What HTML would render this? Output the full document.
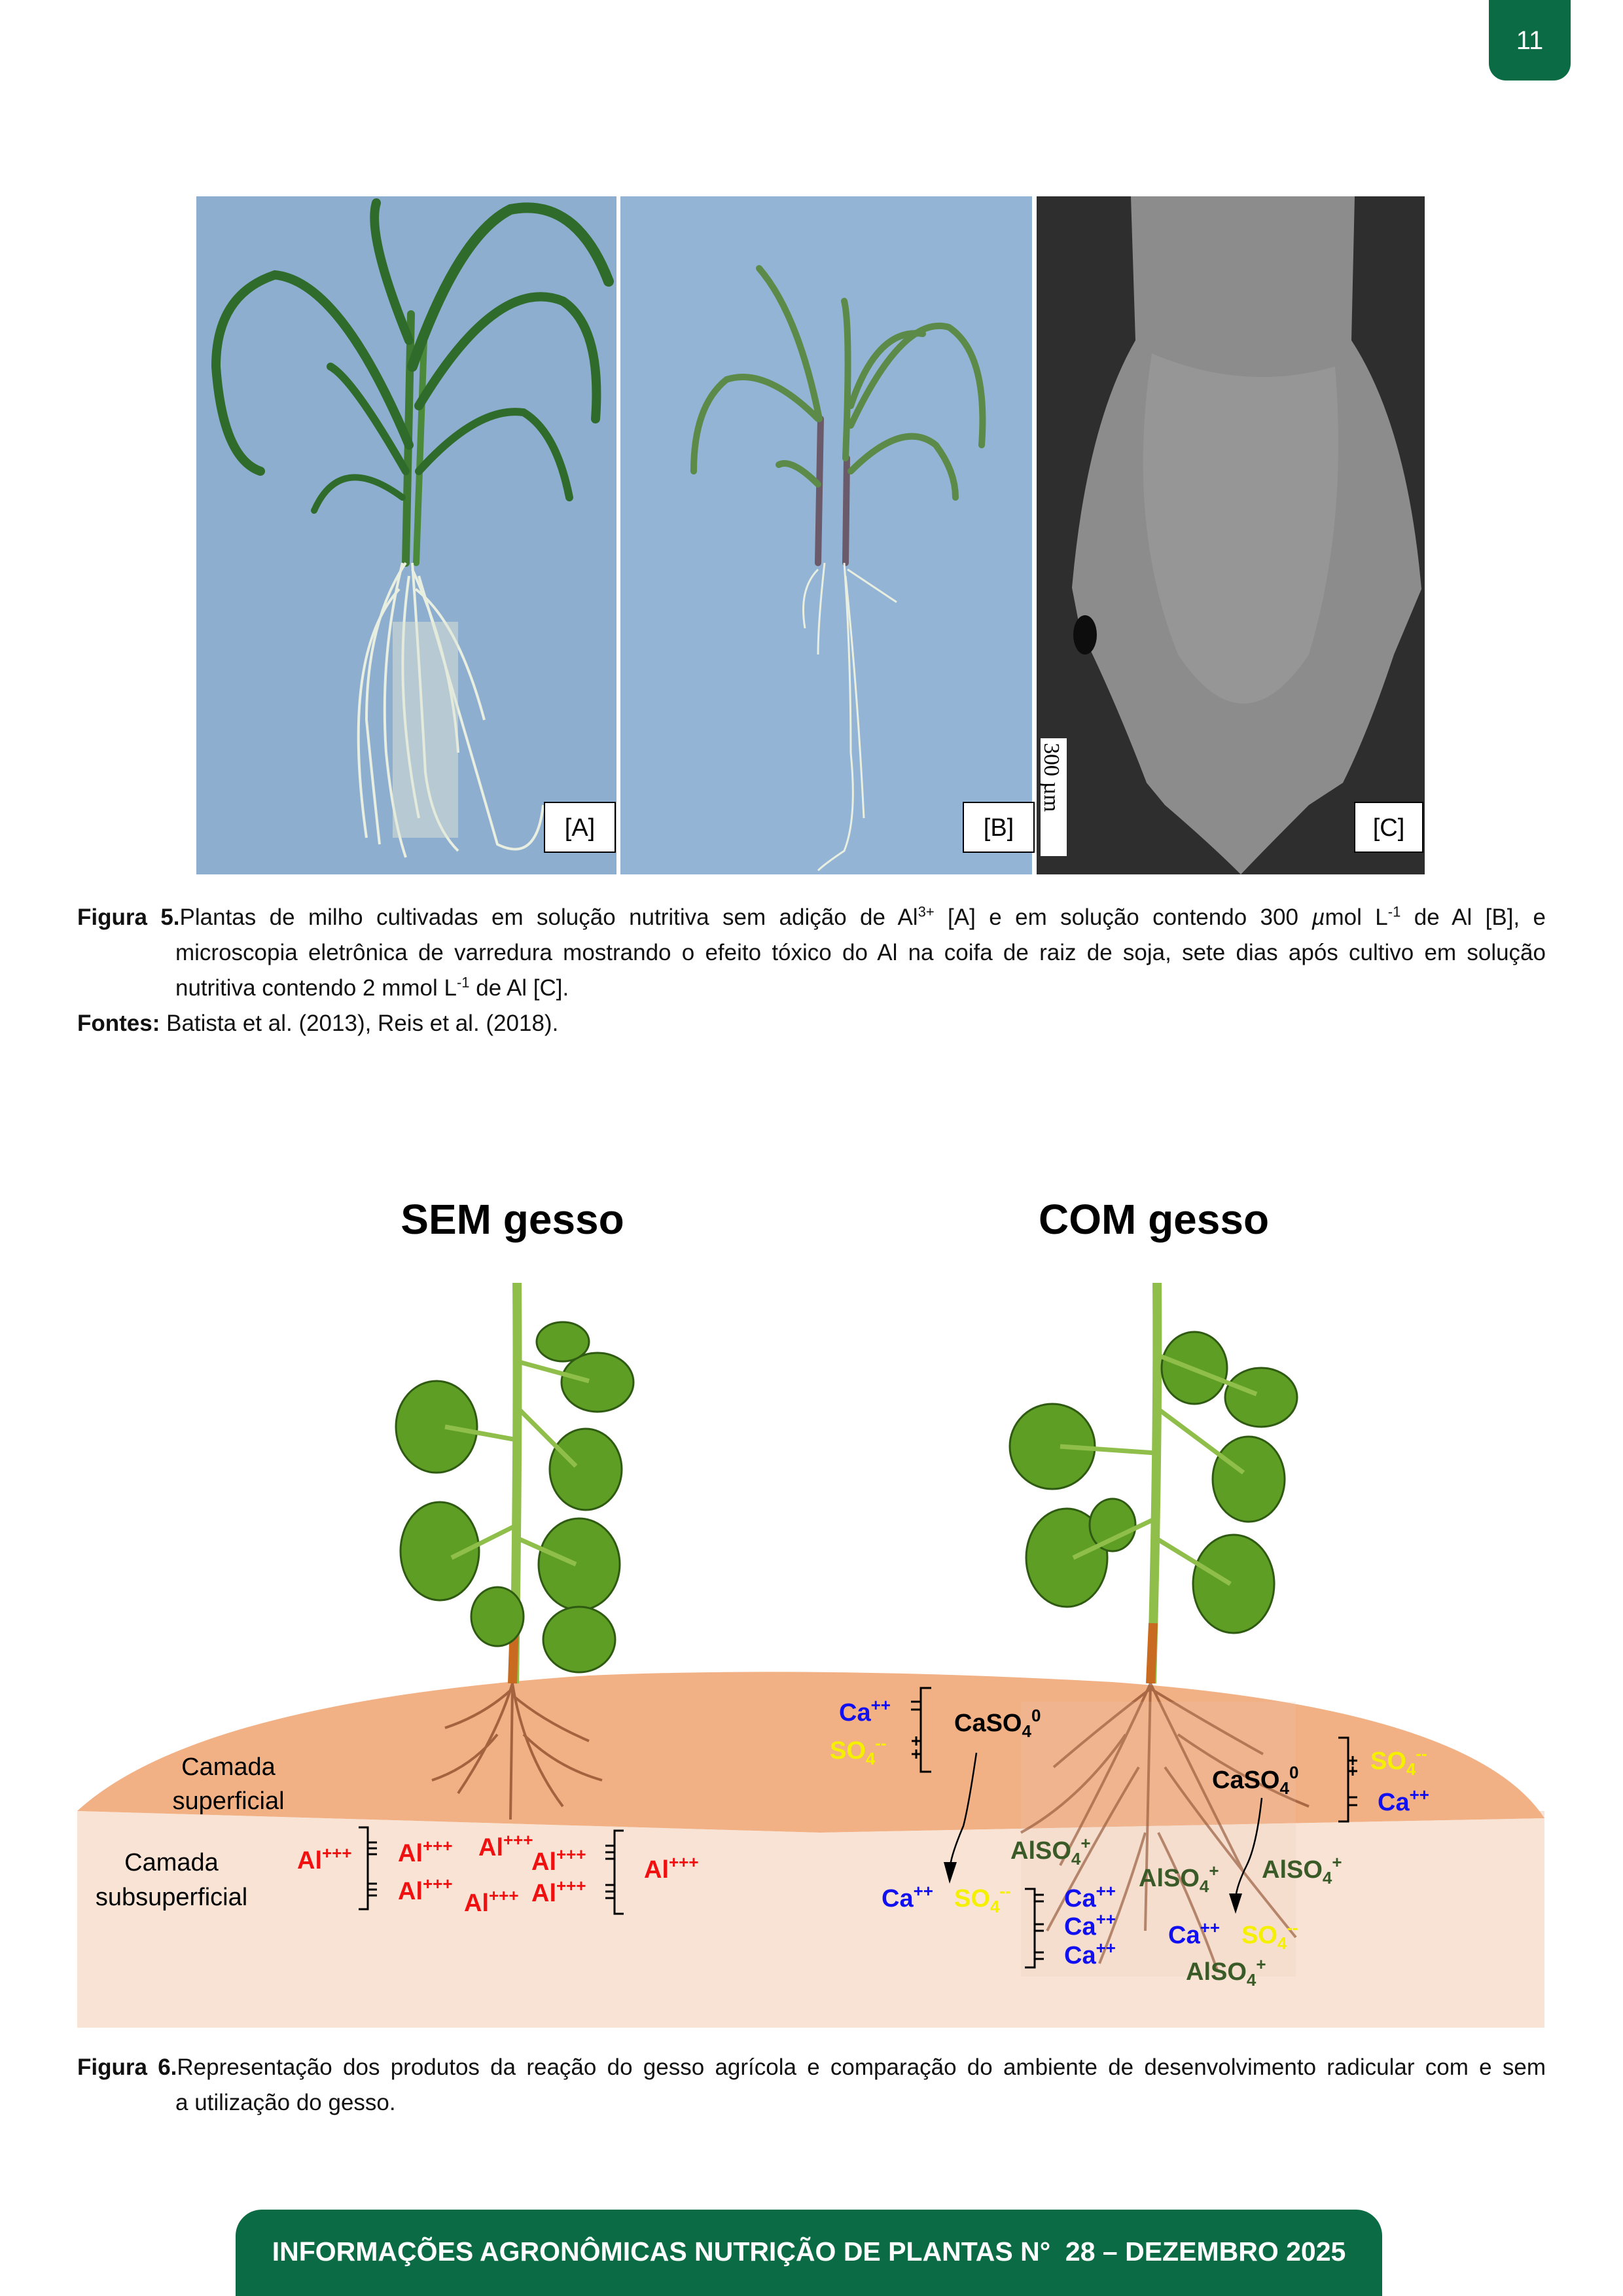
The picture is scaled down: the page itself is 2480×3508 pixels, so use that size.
<!DOCTYPE html>
<html><head><meta charset="utf-8"><style>
html,body{margin:0;padding:0;background:#fff}
body{width:2480px;height:3508px;position:relative;overflow:hidden;font-family:"Liberation Sans",sans-serif}
.cap{position:absolute;left:118px;width:2244px;font-size:35px;line-height:54px;color:#111}
.cap .l{text-align:justify;text-align-last:justify;white-space:nowrap}
.cap .ind{padding-left:150px}
.cap .nj{text-align-last:left}
sup{font-size:22px;line-height:0}
</style></head><body>
<div style="position:absolute;left:2275px;top:0;width:125px;height:123px;background:#0b6b44;border-radius:0 0 26px 26px;color:#fff;font-size:40px;text-align:center;line-height:124px">11</div>

<svg width="2480" height="3508" style="position:absolute;left:0;top:0" xmlns="http://www.w3.org/2000/svg">
<!-- Panel A -->
<rect x="300" y="300" width="642" height="1036" fill="#8eaed0"/>
<g stroke="#2f6b2a" fill="none" stroke-linecap="round">
<path d="M620 860 L628 480" stroke-width="12" stroke="#3f7a32"/>
<path d="M636 860 L648 520" stroke-width="10" stroke="#4a8a3a"/>
<path d="M625 520 Q560 360 575 310" stroke-width="14"/>
<path d="M630 560 Q700 360 780 320 Q880 300 930 430" stroke-width="16"/>
<path d="M640 620 Q760 420 860 460 Q920 500 910 640" stroke-width="14"/>
<path d="M625 680 Q520 430 420 420 Q330 450 330 560 Q340 700 398 720" stroke-width="14"/>
<path d="M620 720 Q540 580 505 560" stroke-width="12"/>
<path d="M640 720 Q730 620 800 630 Q850 660 870 760" stroke-width="12"/>
<path d="M615 760 Q520 690 480 780" stroke-width="10"/>
</g>
<g stroke="#e8eee0" fill="none" stroke-width="4">
<path d="M615 860 Q580 1000 590 1150 Q600 1250 620 1310"/><path d="M630 860 Q640 1000 650 1180 Q660 1260 700 1300"/>
<path d="M620 860 Q560 950 560 1100 Q570 1200 580 1290"/><path d="M630 870 Q690 1000 700 1150"/>
<path d="M625 880 Q600 1050 640 1250"/><path d="M640 880 Q720 1150 760 1290 Q820 1320 830 1230"/>
<path d="M610 900 Q520 1000 560 1280"/><path d="M635 900 Q700 950 740 1100"/>
</g>
<rect x="600" y="950" width="100" height="330" fill="#dfe6d6" opacity="0.5"/>
<rect x="832" y="1226" width="108" height="76" fill="#fff" stroke="#000" stroke-width="2"/>
<text x="886" y="1277" font-size="38" text-anchor="middle" font-family="Liberation Sans">[A]</text>
<!-- Panel B -->
<rect x="948" y="300" width="629" height="1036" fill="#93b4d4"/>
<g stroke="#5c8a48" fill="none" stroke-linecap="round" stroke-width="10">
<path d="M1250 860 L1254 640" stroke="#6a5a6a"/><path d="M1292 860 L1294 700" stroke="#6a5a6a"/>
<path d="M1252 640 Q1220 480 1160 410"/><path d="M1292 700 Q1300 500 1290 460"/>
<path d="M1300 650 Q1380 480 1450 500 Q1510 540 1500 680"/><path d="M1300 620 Q1340 500 1410 510"/>
<path d="M1250 640 Q1170 560 1110 580 Q1060 620 1060 720"/><path d="M1300 720 Q1380 640 1430 680 Q1460 720 1460 760"/>
<path d="M1250 740 Q1210 700 1190 710"/>
</g>
<g stroke="#e8eee0" fill="none" stroke-width="3">
<path d="M1260 860 Q1250 950 1250 1000"/><path d="M1290 860 Q1300 1000 1300 1150 Q1310 1250 1290 1300 Q1260 1320 1250 1330"/>
<path d="M1292 880 Q1310 1050 1320 1250"/><path d="M1250 870 Q1220 900 1230 960"/><path d="M1295 870 Q1340 900 1370 920"/>
</g>
<rect x="1472" y="1226" width="108" height="76" fill="#fff" stroke="#000" stroke-width="2"/>
<text x="1526" y="1277" font-size="38" text-anchor="middle" font-family="Liberation Sans">[B]</text>
<!-- Panel C -->
<rect x="1584" y="300" width="593" height="1036" fill="#2e2e2e"/>
<path d="M1728 300 L2070 300 L2065 520 Q2150 650 2172 900 L2130 1000 Q2090 1120 2052 1196 L2000 1230 Q1930 1300 1896 1336 Q1850 1290 1780 1230 L1752 1196 Q1700 1060 1650 960 L1638 898 Q1660 650 1735 520 Z" fill="#8c8c8c"/>
<path d="M1760 540 Q1900 600 2040 560 Q2060 800 2000 1000 Q1900 1150 1800 1000 Q1720 800 1760 540Z" fill="#9c9c9c" opacity="0.6"/>
<ellipse cx="1658" cy="970" rx="18" ry="30" fill="#0d0d0d"/>
<rect x="1590" y="1128" width="40" height="180" fill="#fff"/>
<text transform="translate(1596,1135) rotate(90)" font-size="34" font-family="Liberation Serif">300 µm</text>
<rect x="2070" y="1226" width="104" height="76" fill="#fff" stroke="#000" stroke-width="2"/>
<text x="2122" y="1277" font-size="38" text-anchor="middle" font-family="Liberation Sans">[C]</text>

<!-- Figure 6 -->
<text x="783" y="1885" font-size="64" font-weight="bold" text-anchor="middle" font-family="Liberation Sans">SEM gesso</text>
<text x="1763" y="1885" font-size="64" font-weight="bold" text-anchor="middle" font-family="Liberation Sans">COM gesso</text>
<rect x="118" y="2767" width="2242" height="331" fill="#f9e3d4"/>
<path d="M118 2767 Q300 2600 900 2560 Q1250 2545 1700 2570 Q2250 2610 2360 2778 L2360 2778 L1253 2800 Z" fill="#f2b085"/>
<path d="M118 2767 L1253 2800 L2360 2778 L2360 2790 L1253 2805 L118 2775Z" fill="#f9e3d4"/>

<!-- left plant -->
<g>
<path d="M790 1960 Q792 2200 786 2572" stroke="#8fbf4a" stroke-width="14" fill="none"/>
<path d="M786 2480 L783 2572" stroke="#c86a20" stroke-width="14"/>
<g fill="#5f9e25" stroke="#2f5a12" stroke-width="3">
<ellipse cx="913" cy="2112" rx="55" ry="45"/><ellipse cx="860" cy="2050" rx="40" ry="30"/>
<ellipse cx="667" cy="2180" rx="62" ry="70"/><ellipse cx="895" cy="2245" rx="55" ry="62"/>
<ellipse cx="672" cy="2370" rx="60" ry="75"/><ellipse cx="885" cy="2390" rx="62" ry="70"/>
<ellipse cx="885" cy="2505" rx="55" ry="50"/><ellipse cx="760" cy="2470" rx="40" ry="45"/>
</g>
<path d="M790 2150 L880 2240 M790 2330 L690 2380 M790 2350 L880 2390 M790 2200 L680 2180 M790 2080 L900 2110" stroke="#8fbf4a" stroke-width="7"/>
<g stroke="#8a4a28" stroke-width="4" fill="none" opacity="0.75">
<path d="M783 2572 Q760 2650 700 2740"/><path d="M783 2572 Q800 2680 860 2760"/><path d="M783 2580 Q740 2620 680 2640"/>
<path d="M783 2590 Q830 2630 900 2660"/><path d="M783 2580 L780 2780"/><path d="M760 2650 Q720 2700 660 2720"/><path d="M800 2650 Q850 2700 920 2720"/>
</g>
</g>
<!-- right plant -->
<g>
<path d="M1768 1960 Q1770 2200 1760 2572" stroke="#8fbf4a" stroke-width="14" fill="none"/>
<path d="M1762 2480 L1758 2572" stroke="#c86a20" stroke-width="14"/>
<g fill="#5f9e25" stroke="#2f5a12" stroke-width="3">
<ellipse cx="1825" cy="2090" rx="50" ry="55"/><ellipse cx="1927" cy="2135" rx="55" ry="45"/>
<ellipse cx="1608" cy="2210" rx="65" ry="65"/><ellipse cx="1908" cy="2260" rx="55" ry="65"/>
<ellipse cx="1630" cy="2380" rx="62" ry="75"/><ellipse cx="1885" cy="2420" rx="62" ry="75"/>
<ellipse cx="1700" cy="2330" rx="35" ry="40"/>
</g>
<path d="M1766 2150 L1900 2250 M1766 2320 L1640 2380 M1766 2350 L1880 2420 M1766 2220 L1620 2210 M1768 2070 L1920 2130" stroke="#8fbf4a" stroke-width="7"/>
<g stroke="#8a4a28" stroke-width="4" fill="none" opacity="0.7">
<path d="M1758 2572 Q1700 2700 1620 2850"/><path d="M1758 2572 Q1820 2700 1900 2860"/><path d="M1758 2572 L1750 2950"/>
<path d="M1758 2580 Q1680 2640 1610 2700"/><path d="M1758 2580 Q1840 2630 1930 2680"/><path d="M1740 2700 Q1680 2800 1600 2950"/>
<path d="M1780 2700 Q1850 2800 1980 2960"/><path d="M1720 2650 Q1650 2750 1560 2800"/><path d="M1800 2650 Q1900 2720 2000 2760"/>
<path d="M1750 2800 Q1720 2900 1680 3000"/><path d="M1770 2800 Q1820 2900 1860 3010"/>
</g>
<rect x="1560" y="2600" width="420" height="420" fill="#e8c8b8" opacity="0.18"/>
</g>

<g font-family="Liberation Sans" font-size="38" dominant-baseline="central">
<text x="349" y="2700" text-anchor="middle">Camada</text>
<text x="349" y="2752" text-anchor="middle">superficial</text>
<text x="262" y="2846" text-anchor="middle">Camada</text>
<text x="262" y="2899" text-anchor="middle">subsuperficial</text>
</g>
<g font-family="Liberation Sans" font-size="38" font-weight="bold" fill="#f01010" dominant-baseline="central">
<text x="454" y="2843">Al<tspan font-size="26" dy="-12">+++</tspan></text>
<text x="608" y="2832">Al<tspan font-size="26" dy="-12">+++</tspan></text>
<text x="731" y="2823">Al<tspan font-size="26" dy="-12">+++</tspan></text>
<text x="812" y="2845">Al<tspan font-size="26" dy="-12">+++</tspan></text>
<text x="608" y="2890">Al<tspan font-size="26" dy="-12">+++</tspan></text>
<text x="709" y="2908">Al<tspan font-size="26" dy="-12">+++</tspan></text>
<text x="812" y="2893">Al<tspan font-size="26" dy="-12">+++</tspan></text>
<text x="984" y="2857">Al<tspan font-size="26" dy="-12">+++</tspan></text>
</g>
<g stroke="#000" stroke-width="3" fill="none">
<path d="M548 2792 L562 2792 L562 2917 L548 2917"/>
<path d="M562 2815h14M562 2824h14M562 2833h14M562 2878h14M562 2887h14M562 2896h14"/>
<path d="M953 2797 L939 2797 L939 2924 L953 2924"/>
<path d="M925 2820h14M925 2830h14M925 2840h14M925 2880h14M925 2890h14M925 2900h14"/>
<path d="M1423 2579 L1407 2579 L1407 2707 L1423 2707"/>
<path d="M1392 2600h15M1392 2612h15M1393 2660h14M1400 2653v14M1393 2680h14M1400 2673v14"/>
<path d="M2045 2655 L2060 2655 L2060 2783 L2045 2783"/>
<path d="M2060 2690h14M2067 2683v14M2060 2706h14M2067 2699v14M2060 2746h14M2060 2758h14"/>
<path d="M1566 2886 L1581 2886 L1581 3006 L1566 3006"/>
<path d="M1581 2895h14M1581 2905h14M1581 2940h14M1581 2950h14M1581 2983h14M1581 2993h14"/>
<path d="M1492 2678 Q1480 2760 1472 2790 Q1455 2830 1452 2850" stroke-width="2.5"/>
<path d="M1928 2747 Q1920 2820 1905 2850 Q1890 2880 1888 2900" stroke-width="2.5"/>
</g>
<path d="M1442 2845 L1462 2845 L1451 2878Z M1878 2893 L1898 2893 L1888 2924Z" fill="#000"/>
<g font-family="Liberation Sans" font-size="38" font-weight="bold" dominant-baseline="central">
<text x="1282" y="2617" fill="#1010f0">Ca<tspan font-size="26" dy="-12">++</tspan></text>
<text x="1268" y="2675" fill="#f5f000">SO<tspan font-size="26" dy="12">4</tspan><tspan font-size="26" dy="-24">--</tspan></text>
<text x="1458" y="2633">CaSO<tspan font-size="26" dy="12">4</tspan><tspan font-size="26" dy="-24">0</tspan></text>
<text x="1852" y="2720">CaSO<tspan font-size="26" dy="12">4</tspan><tspan font-size="26" dy="-24">0</tspan></text>
<text x="2094" y="2691" fill="#f5f000">SO<tspan font-size="26" dy="12">4</tspan><tspan font-size="26" dy="-24">--</tspan></text>
<text x="2105" y="2754" fill="#1010f0">Ca<tspan font-size="26" dy="-12">++</tspan></text>
<text x="1544" y="2828" fill="#3a5a28">AlSO<tspan font-size="26" dy="12">4</tspan><tspan font-size="26" dy="-24">+</tspan></text>
<text x="1740" y="2870" fill="#3a5a28">AlSO<tspan font-size="26" dy="12">4</tspan><tspan font-size="26" dy="-24">+</tspan></text>
<text x="1928" y="2857" fill="#3a5a28">AlSO<tspan font-size="26" dy="12">4</tspan><tspan font-size="26" dy="-24">+</tspan></text>
<text x="1812" y="3013" fill="#3a5a28">AlSO<tspan font-size="26" dy="12">4</tspan><tspan font-size="26" dy="-24">+</tspan></text>
<text x="1347" y="2901" fill="#1010f0">Ca<tspan font-size="26" dy="-12">++</tspan></text>
<text x="1458" y="2901" fill="#f5f000">SO<tspan font-size="26" dy="12">4</tspan><tspan font-size="26" dy="-24">--</tspan></text>
<text x="1626" y="2901" fill="#1010f0">Ca<tspan font-size="26" dy="-12">++</tspan></text>
<text x="1626" y="2944" fill="#1010f0">Ca<tspan font-size="26" dy="-12">++</tspan></text>
<text x="1626" y="2988" fill="#1010f0">Ca<tspan font-size="26" dy="-12">++</tspan></text>
<text x="1785" y="2957" fill="#1010f0">Ca<tspan font-size="26" dy="-12">++</tspan></text>
<text x="1897" y="2957" fill="#f5f000">SO<tspan font-size="26" dy="12">4</tspan><tspan font-size="26" dy="-24">--</tspan></text>
</g>
</svg>

<div class="cap" style="top:1375px">
<div class="l"><b>Figura 5.</b>Plantas de milho cultivadas em solução nutritiva sem adição de Al<sup>3+</sup> [A] e em solução contendo 300 <i>µ</i>mol L<sup>-1</sup> de Al [B], e</div>
<div class="l ind">microscopia eletrônica de varredura mostrando o efeito tóxico do Al na coifa de raiz de soja, sete dias após cultivo em solução</div>
<div class="l ind nj">nutritiva contendo 2 mmol L<sup>-1</sup> de Al [C].</div>
<div class="l nj"><b>Fontes:</b> Batista et al. (2013), Reis et al. (2018).</div>
</div>

<div class="cap" style="top:3132px">
<div class="l"><b>Figura 6.</b>Representação dos produtos da reação do gesso agrícola e comparação do ambiente de desenvolvimento radicular com e sem</div>
<div class="l ind nj">a utilização do gesso.</div>
</div>

<div style="position:absolute;left:360px;top:3376px;width:1752px;height:132px;background:#0b6b44;border-radius:40px 40px 0 0;color:#fff;font-weight:bold;font-size:41px;text-align:center;line-height:128px">INFORMAÇÕES AGRONÔMICAS NUTRIÇÃO DE PLANTAS N°&nbsp; 28 – DEZEMBRO 2025</div>
</body></html>
